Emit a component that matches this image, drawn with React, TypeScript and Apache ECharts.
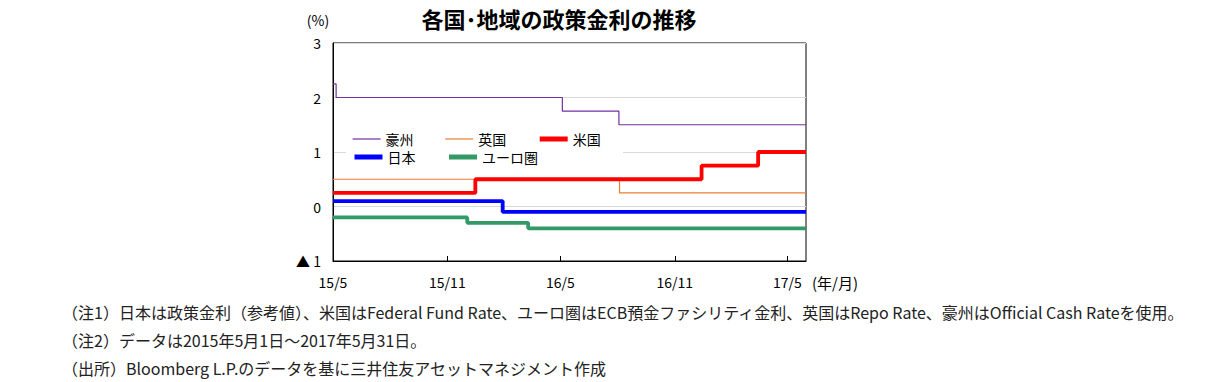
import React, { useEffect, useRef } from "react";
import * as echarts from "echarts";

const FONT = "'Noto Sans CJK JP', 'Noto Sans', sans-serif";

const titleText = "各国･地域の政策金利の推移";
const yUnit = "(%)";
const xUnit = "(年/月)";
const notes = [
  "（注1）日本は政策金利（参考値）、米国はFederal Fund Rate、ユーロ圏はECB預金ファシリティ金利、英国はRepo Rate、豪州はOfficial Cash Rateを使用。",
  "（注2）データは2015年5月1日～2017年5月31日。",
  "（出所）Bloomberg L.P.のデータを基に三井住友アセットマネジメント作成",
];

const axisStart = "2015-05-01";
const axisEnd = "2017-05-31";
const tickDates = ["2015-05-01", "2015-11-01", "2016-05-01", "2016-11-01", "2017-05-01"];
const tickLabels = ["15/5", "15/11", "16/5", "16/11", "17/5"];
const yTicks = [-1, 0, 1, 2, 3];

const seriesNames = ["豪州", "英国", "米国", "日本", "ユーロ圏"];

const ausDates = ["2015-05-01", "2015-05-06", "2016-05-04", "2016-08-03", "2017-05-31"];
const ausValues = [2.25, 2.0, 1.75, 1.5, 1.5];

const ukDates = ["2015-05-01", "2016-08-04", "2017-05-31"];
const ukValues = [0.5, 0.25, 0.25];

const usDates = ["2015-05-01", "2015-12-16", "2016-12-14", "2017-03-15", "2017-05-31"];
const usValues = [0.25, 0.5, 0.75, 1.0, 1.0];

const jpDates = ["2015-05-01", "2016-01-29", "2017-05-31"];
const jpValues = [0.1, -0.1, -0.1];

const euDates = ["2015-05-01", "2015-12-03", "2016-03-10", "2017-05-31"];
const euValues = [-0.2, -0.3, -0.4, -0.4];

const colors = ["#7030A0", "#ED7D31", "#FF0000", "#0000FF", "#339966"];
const widths = [1.2, 1.2, 3.8, 3.8, 3.8];
const legendWidths = [1.2, 1.2, 5, 5, 5];

function ts(s: string): number {
  const [y, m, d] = s.split("-").map(Number);
  return Date.UTC(y, m - 1, d);
}

function pairs(dates: string[], values: number[]) {
  return dates.map((d, i) => [ts(d), values[i]]);
}

export default function App() {
  const ref = useRef<HTMLDivElement>(null);

  useEffect(() => {
    if (!ref.current) return;
    const chart = echarts.init(ref.current, null, { renderer: "svg" });
    const tickTs = tickDates.map(ts);
    const allData = [
      pairs(ausDates, ausValues),
      pairs(ukDates, ukValues),
      pairs(usDates, usValues),
      pairs(jpDates, jpValues),
      pairs(euDates, euValues),
    ];

    const legendItems = seriesNames.map((name, i) => ({
      name,
      itemStyle: { opacity: 0, borderWidth: 0 },
      lineStyle: { color: colors[i], width: legendWidths[i], opacity: 1 },
    }));

    const legendBase = {
      left: 352,
      itemWidth: 28,
      itemHeight: 14,
      itemGap: 31,
      padding: 0,
      itemStyle: { opacity: 0, borderWidth: 0 },
      textStyle: { fontSize: 14, color: "#000", fontFamily: FONT },
    };

    chart.setOption({
      animation: false,
      textStyle: { fontFamily: FONT },
      grid: {
        left: 333,
        top: 43,
        right: 401,
        bottom: 121,
        show: true,
        borderColor: "#000",
        borderWidth: 1,
        containLabel: false,
      },
      xAxis: {
        type: "value",
        min: ts(axisStart),
        max: ts(axisEnd),
        axisLine: { show: true, onZero: false, lineStyle: { color: "#000", width: 1 } },
        axisTick: {
          show: true,
          inside: true,
          length: 5,
          customValues: tickTs,
          lineStyle: { color: "#000" },
        },
        axisLabel: {
          customValues: tickTs,
          color: "#000",
          fontSize: 14,
          margin: 14,
          fontFamily: FONT,
          formatter: (v: number) => {
            const i = tickTs.indexOf(v);
            return i >= 0 ? tickLabels[i] : "";
          },
        },
        splitLine: { show: false },
      },
      yAxis: {
        type: "value",
        min: yTicks[0],
        max: yTicks[yTicks.length - 1],
        interval: 1,
        axisLine: { show: true, onZero: false, lineStyle: { color: "#000" } },
        axisTick: { show: false },
        axisLabel: {
          color: "#000",
          fontSize: 14,
          margin: 12,
          fontFamily: FONT,
          formatter: (v: number) => (v < 0 ? "▲ " + Math.abs(v) : String(v)),
        },
        splitLine: { show: true, lineStyle: { color: "#D9D9D9", width: 1 } },
      },
      legend: [
        { ...legendBase, data: legendItems.slice(0, 3), top: 132 },
        { ...legendBase, data: legendItems.slice(3), top: 150 },
      ],
      graphic: [
        {
          type: "rect",
          z: 2,
          shape: { x: 346, y: 130, width: 277, height: 37 },
          style: { fill: "#fff" },
        },
        {
          type: "text",
          x: 559,
          y: 18,
          style: {
            text: titleText,
            font: `bold 22px ${FONT}`,
            fill: "#000",
            align: "center",
            verticalAlign: "middle",
          },
        },
        {
          type: "text",
          x: 318,
          y: 20,
          style: {
            text: yUnit,
            font: `14px ${FONT}`,
            fill: "#000",
            align: "center",
            verticalAlign: "middle",
          },
        },
        {
          type: "text",
          x: 812,
          y: 282,
          style: {
            text: xUnit,
            font: `15px ${FONT}`,
            fill: "#000",
            align: "left",
            verticalAlign: "middle",
          },
        },
        ...notes.map((t, i) => ({
          type: "text",
          x: 62,
          y: 312 + i * 28,
          style: {
            text: t,
            font: `16px ${FONT}`,
            fill: "#222",
            align: "left",
            verticalAlign: "middle",
          },
        })),
      ],
      series: seriesNames.map((name, i) => ({
        name,
        type: "line",
        step: "end",
        symbol: "none",
        data: allData[i],
        z: 3 + (i >= 2 ? 1 : 0),
        lineStyle: { color: colors[i], width: widths[i] },
        itemStyle: { color: colors[i] },
      })),
    });

    return () => chart.dispose();
  }, []);

  return (
    <div
      ref={ref}
      style={{ position: "fixed", left: 0, top: 0, width: 1207, height: 382, background: "#fff" }}
    />
  );
}
